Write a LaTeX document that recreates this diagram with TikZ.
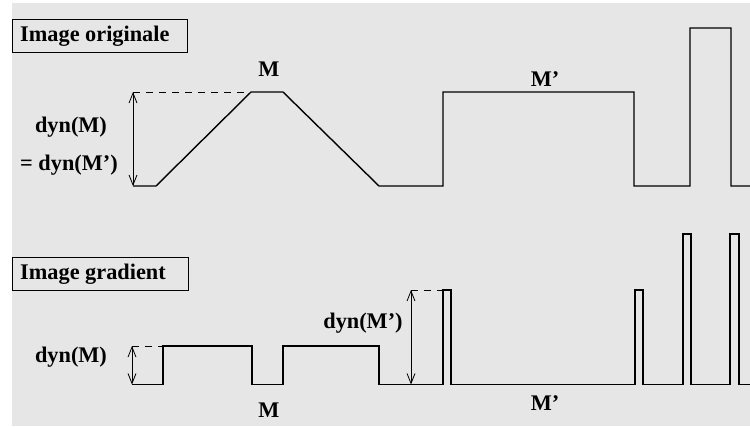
\documentclass[tikz,border=0pt]{standalone}
\usepackage{fontspec}
\setmainfont{Liberation Serif}
\usetikzlibrary{arrows.meta}
\definecolor{bggray}{HTML}{E6E6E6}
\begin{document}
\begin{tikzpicture}[x=1pt,y=-1pt,
  signal/.style={line width=1.4pt,line join=miter,black},
  dimarrow/.style={line width=0.8pt,{Straight Barb[length=10pt,width=8pt]}-{Straight Barb[length=10pt,width=8pt]}},
  dashln/.style={line width=0.8pt,dash pattern=on 7pt off 6pt},
  lbl/.style={font=\fontsize{22.3}{24}\selectfont\bfseries,inner sep=0pt},
  titlebox/.style={draw,line width=0.9pt,fill=bggray,minimum height=33pt,inner sep=0pt,anchor=west}]
\useasboundingbox (0,0) rectangle (750,426);
\fill[bggray] (12,3) rectangle (750,426);

% title boxes
\node[titlebox,minimum width=175pt] (t1) at (12,35.5) {};
\node[lbl,anchor=west] (t1txt) at (20,36) {Image originale};
\node[titlebox,minimum width=176pt] (t2) at (12,274) {};
\node[lbl,anchor=west] (t2txt) at (20,274) {Image gradient};

% top signal
\draw[signal] (133,186) -- (156,186) -- (251,92) -- (283,92) -- (379,186) -- (443,186)
  -- (443,92) -- (634,92) -- (634,186) -- (690,186) -- (690,28) -- (731,28) -- (731,186) -- (750,186);
\coordinate (a1t) at (133,92);
\coordinate (a1b) at (133,186);
\coordinate (d1e) at (251,92);
\draw[dashln] (a1t) -- (d1e);
\draw[dimarrow] (a1t) -- (a1b);
\node[lbl] (dynM1) at (71,127) {dyn(M)};
\node[lbl] (dynMp1) at (69,165) {= dyn(M’)};
\node[lbl] (M1) at (269,69) {M};
\node[lbl] (Mp1) at (545,79) {M’};

% bottom signal
\draw[signal] (132,384.5) -- (163,384.5) -- (163,346) -- (252,346) -- (252,384.5) -- (283,384.5)
  -- (283,346) -- (379,346) -- (379,384.5) -- (443,384.5) -- (443,290) -- (451,290) -- (451,384.5)
  -- (635,384.5) -- (635,290) -- (643,290) -- (643,384.5) -- (683,384.5) -- (683,234) -- (691,234)
  -- (691,384.5) -- (730,384.5) -- (730,234) -- (739,234) -- (739,384.5) -- (750,384.5);
\coordinate (a2t) at (132,346);
\coordinate (a2b) at (132,384.5);
\coordinate (d2e) at (163,346);
\draw[dashln] (a2t) -- (d2e);
\draw[dimarrow] (a2t) -- (a2b);
\coordinate (a3t) at (411,290);
\coordinate (a3b) at (411,384.5);
\coordinate (d3e) at (443,290);
\draw[dashln] (a3t) -- (d3e);
\draw[dimarrow] (a3t) -- (a3b);
\node[lbl] (dynM2) at (71,357) {dyn(M)};
\node[lbl] (dynMp2) at (363,323) {dyn(M’)};
\node[lbl] (M2) at (269,410) {M};
\node[lbl] (Mp2) at (545,403) {M’};
\end{tikzpicture}
\end{document}
